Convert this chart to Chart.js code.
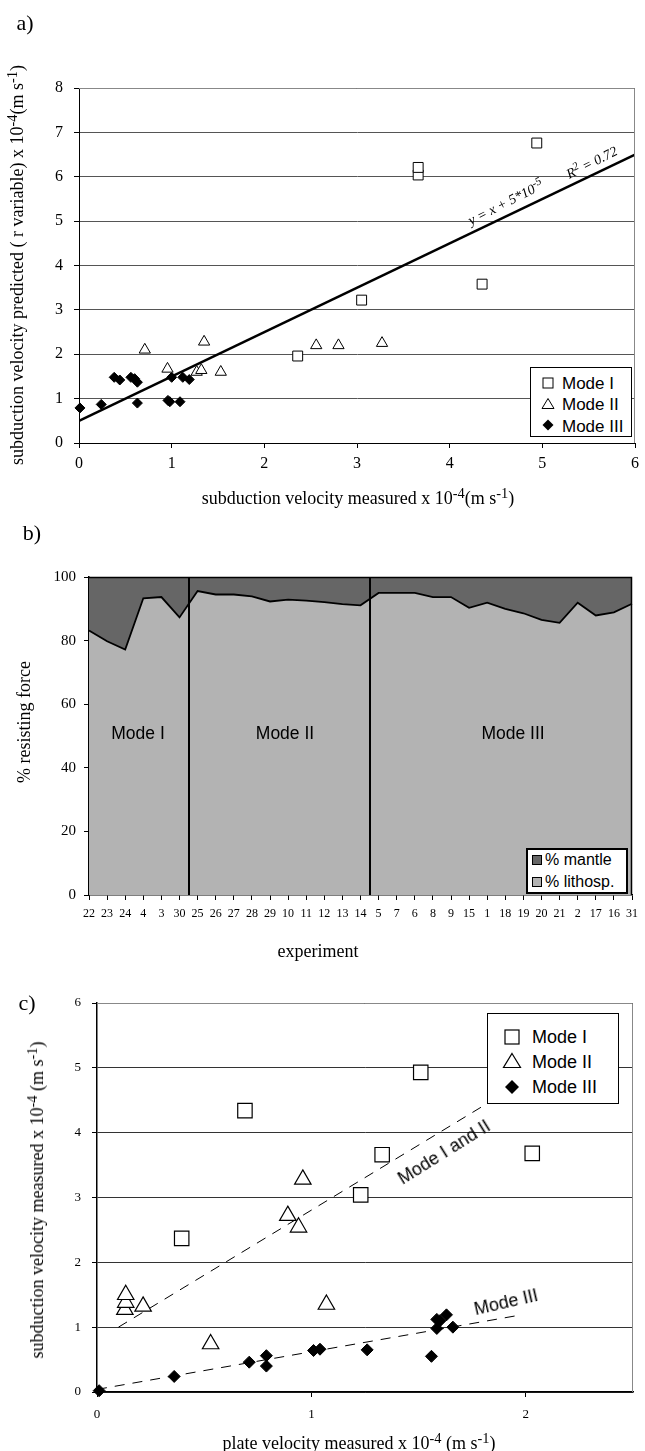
<!DOCTYPE html>
<html>
<head>
<meta charset="utf-8">
<script src="https://cdn.jsdelivr.net/npm/chart.js@4.4.1/dist/chart.umd.min.js"></script>
<style>
html,body{margin:0;padding:0;background:#fff;}
#page{position:relative;width:645px;height:1451px;overflow:hidden;background:#fff;color:#000;}
canvas{position:absolute;left:0;}
.t{position:absolute;white-space:nowrap;line-height:1;z-index:5;}
.serif{font-family:"Liberation Serif","Times New Roman",serif;}
.sans{font-family:"Liberation Sans",Arial,sans-serif;}
.c{transform:translate(-50%,-50%);}
.rot{transform:translate(-50%,-50%) rotate(-90deg);}
sup{font-size:0.8em;vertical-align:0.45em;line-height:0;}
.legend{position:absolute;background:#fff;border:1px solid #000;z-index:6;box-sizing:border-box;}
.legend svg{position:absolute;}
.legend span{position:absolute;white-space:nowrap;line-height:1;transform:translateY(-50%);font-family:"Liberation Sans",Arial,sans-serif;}
</style>
</head>
<body>
<div id="page">
  <canvas id="chartA" width="645" height="480" style="top:0px;"></canvas>
  <canvas id="chartB" width="645" height="430" style="top:500px;"></canvas>
  <canvas id="chartC" width="645" height="470" style="top:960px;"></canvas>

  <!-- panel a texts -->
  <div class="t serif c" style="left:25px;top:23px;font-size:22px;">a)</div>
  <div class="t serif rot" style="left:17px;top:265px;font-size:18px;">subduction velocity predicted ( r variable) x 10<sup>-4</sup>(m s<sup>-1</sup>)</div>
  <div class="t serif c" style="left:358px;top:498px;font-size:18px;">subduction velocity measured x 10<sup>-4</sup>(m s<sup>-1</sup>)</div>
  <div class="t serif" style="left:506px;top:203px;font-size:14px;font-style:italic;transform:translate(-50%,-50%) rotate(-27deg);">y = x + 5*10<sup>-5</sup></div>
  <div class="t serif" style="left:592px;top:163px;font-size:14px;font-style:italic;transform:translate(-50%,-50%) rotate(-27deg);">R<sup>2</sup> = 0.72</div>
  <div class="legend" style="left:530px;top:367px;width:102px;height:70px;">
    <svg width="14" height="14" style="left:10px;top:8px;"><rect x="2" y="2" width="10" height="10" fill="#fff" stroke="#000" stroke-width="1"/></svg>
    <span style="left:31px;top:15px;font-size:17px;">Mode I</span>
    <svg width="16" height="14" style="left:9px;top:29px;"><polygon points="8,1.5 14,11.5 2,11.5" fill="#fff" stroke="#000" stroke-width="1"/></svg>
    <span style="left:31px;top:36px;font-size:17px;">Mode II</span>
    <svg width="14" height="14" style="left:10px;top:50px;"><polygon points="7,1.5 12.5,7 7,12.5 1.5,7" fill="#000"/></svg>
    <span style="left:31px;top:58px;font-size:17px;">Mode III</span>
  </div>

  <!-- panel b texts -->
  <div class="t serif c" style="left:32px;top:533px;font-size:22px;">b)</div>
  <div class="t serif rot" style="left:24px;top:722px;font-size:18px;">% resisting force</div>
  <div class="t serif c" style="left:318px;top:951px;font-size:18px;">experiment</div>
  <div class="t sans c" style="left:138px;top:734px;font-size:17.5px;">Mode I</div>
  <div class="t sans c" style="left:285px;top:734px;font-size:17.5px;">Mode II</div>
  <div class="t sans c" style="left:513px;top:734px;font-size:17.5px;">Mode III</div>
  <div class="legend" style="left:526px;top:848px;width:102px;height:46px;border-width:2.5px;">
    <svg width="12" height="12" style="left:3px;top:4px;"><rect x="1.5" y="1.5" width="9" height="9" fill="#666" stroke="#000" stroke-width="1"/></svg>
    <span style="left:17px;top:10px;font-size:16px;">% mantle</span>
    <svg width="12" height="12" style="left:3px;top:26px;"><rect x="1.5" y="1.5" width="9" height="9" fill="#b3b3b3" stroke="#000" stroke-width="1"/></svg>
    <span style="left:17px;top:32px;font-size:16px;">% lithosp.</span>
  </div>

  <!-- panel c texts -->
  <div class="t serif c" style="left:27px;top:1003px;font-size:22px;">c)</div>
  <div class="t serif rot" style="left:37px;top:1200px;font-size:18px;">subduction velocity measured x 10<sup>-4</sup> (m s<sup>-1</sup>)</div>
  <div class="t serif c" style="left:359px;top:1443px;font-size:18px;">plate velocity measured x 10<sup>-4</sup> (m s<sup>-1</sup>)</div>
  <div class="t sans" style="left:444px;top:1152px;font-size:18px;transform:translate(-50%,-50%) rotate(-32deg);">Mode I and II</div>
  <div class="t sans" style="left:506px;top:1302px;font-size:18px;transform:translate(-50%,-50%) rotate(-13deg);">Mode III</div>
  <div class="legend" style="left:487px;top:1013px;width:132px;height:91px;border-width:1.5px;">
    <svg width="18" height="18" style="left:15px;top:14px;"><rect x="2" y="2" width="14" height="14" fill="#fff" stroke="#000" stroke-width="1.2"/></svg>
    <span style="left:44px;top:23px;font-size:18px;">Mode I</span>
    <svg width="20" height="18" style="left:14px;top:38px;"><polygon points="10,1.5 18.5,15.5 1.5,15.5" fill="#fff" stroke="#000" stroke-width="1.2"/></svg>
    <span style="left:44px;top:48px;font-size:18px;">Mode II</span>
    <svg width="16" height="16" style="left:16px;top:65px;"><polygon points="8,1 15,8 8,15 1,8" fill="#000"/></svg>
    <span style="left:44px;top:73px;font-size:18px;">Mode III</span>
  </div>
</div>

<script>
// ================= DATA =================
// Panel a: predicted vs measured subduction velocity (x 1e-4 m/s)
const aModeIX   = [2.36, 3.05, 3.66, 3.66, 4.35, 4.94];
const aModeIY   = [1.96, 3.22, 6.04, 6.21, 3.58, 6.76];
const aModeIIX  = [0.71, 0.955, 1.27, 1.32, 1.35, 1.53, 2.56, 2.80, 3.27];
const aModeIIY  = [2.10, 1.67, 1.60, 1.64, 2.28, 1.60, 2.20, 2.20, 2.25];
const aModeIIIX = [0.01, 0.24, 0.38, 0.44, 0.56, 0.60, 0.63, 0.63, 0.96, 0.98, 1.00, 1.09, 1.12, 1.19];
const aModeIIIY = [0.79, 0.87, 1.48, 1.42, 1.48, 1.45, 1.37, 0.90, 0.96, 0.93, 1.48, 0.93, 1.48, 1.43];
const aTrendX   = [0, 6];
const aTrendY   = [0.5, 6.5];
const aXRange   = [0, 6];
const aYRange   = [0, 8];

// Panel b: % resisting force per experiment
const experiments = ['22','23','24','4','3','30','25','26','27','28','29','10','11','12','13','14','5','7','6','8','9','15','1','18','19','20','21','2','17','16','31'];
const lithospherePct = [83.2,79.8,77.2,93.3,93.7,87.3,95.6,94.5,94.5,93.9,92.3,92.9,92.6,92.1,91.5,91.1,95.0,95.0,95.0,93.7,93.7,90.3,91.9,90.0,88.6,86.5,85.6,91.9,87.9,88.9,91.6];
const mantlePct      = [16.8,20.2,22.8,6.7,6.3,12.7,4.4,5.5,5.5,6.1,7.7,7.1,7.4,7.9,8.5,8.9,5.0,5.0,5.0,6.3,6.3,9.7,8.1,10.0,11.4,13.5,14.4,8.1,12.1,11.1,8.4];
const modeBoundaries = [5.5, 15.5];
const bYRange = [0, 100];

// Panel c: subduction velocity vs plate velocity (x 1e-4 m/s)
const cModeIX   = [0.395, 0.69, 1.23, 1.33, 1.51, 2.03];
const cModeIY   = [2.37, 4.34, 3.04, 3.66, 4.93, 3.68];
const cModeIIX  = [0.13, 0.134, 0.134, 0.215, 0.53, 0.89, 0.94, 0.96, 1.07];
const cModeIIY  = [1.27, 1.38, 1.50, 1.32, 0.74, 2.72, 2.54, 3.28, 1.35];
const cModeIIIX = [0.01, 0.36, 0.71, 0.79, 0.79, 1.01, 1.04, 1.26, 1.56, 1.585, 1.585, 1.60, 1.63, 1.66];
const cModeIIIY = [0.02, 0.24, 0.46, 0.56, 0.40, 0.64, 0.66, 0.65, 0.55, 0.98, 1.12, 1.10, 1.19, 1.00];
const cFitI_IIX = [0.10, 1.82];
const cFitI_IIY = [1.00, 4.45];
const cFitIIIX  = [0.00, 1.98];
const cFitIIIY  = [0.04, 1.19];
const cXRange   = [0, 2.5];
const cYRange   = [0, 6];

// ================= HELPERS =================
const pts = (xs, ys) => xs.map((x, i) => ({x: x, y: ys[i]}));
const SERIF = '"Liberation Serif", "Times New Roman", serif';
Chart.defaults.font.family = SERIF;
Chart.defaults.color = '#000';

const framePlugin = {
  id: 'frame',
  afterDatasetsDraw(chart, args, opts) {
    const {ctx, chartArea: {left, right, top, bottom}} = chart;
    ctx.save();
    ctx.strokeStyle = opts.color || '#888';
    ctx.lineWidth = opts.width || 1;
    const r = Math.round(right) - 0.5, t = Math.round(top) + 0.5;
    ctx.beginPath();
    ctx.moveTo(left, t); ctx.lineTo(r, t); ctx.lineTo(r, bottom);
    ctx.stroke();
    ctx.restore();
  }
};

const boundaryPlugin = {
  id: 'modeBoundaries',
  afterDatasetsDraw(chart, args, opts) {
    if (!opts.values) return;
    const {ctx, chartArea: {top, bottom}} = chart;
    const xs = chart.scales.x;
    ctx.save();
    ctx.strokeStyle = '#000';
    ctx.lineWidth = 2;
    opts.values.forEach(v => {
      const px = Math.round(xs.getPixelForValue(v));
      ctx.beginPath(); ctx.moveTo(px, top); ctx.lineTo(px, bottom); ctx.stroke();
    });
    ctx.restore();
  }
};

function hollow(style, r, bw) {
  return {pointStyle: style, pointRadius: r, pointHoverRadius: r,
    pointBackgroundColor: '#fff', backgroundColor: '#fff',
    pointBorderColor: '#000', borderColor: '#000', pointBorderWidth: bw, borderWidth: bw,
    showLine: false, clip: false};
}
function solid(style, r) {
  return {pointStyle: style, pointRadius: r, pointHoverRadius: r,
    pointBackgroundColor: '#000', backgroundColor: '#000',
    pointBorderColor: '#000', borderColor: '#000', pointBorderWidth: 1, borderWidth: 1,
    showLine: false, clip: false};
}
function axisTicks(size, pad) {
  return {font: {family: SERIF, size: size}, color: '#000', padding: pad};
}

// ================= CHART A =================
new Chart(document.getElementById('chartA'), {
  type: 'scatter',
  data: {
    datasets: [
      Object.assign({label: 'Mode I', data: pts(aModeIX, aModeIY)}, hollow('rect', 7, 1)),
      Object.assign({label: 'Mode II', data: pts(aModeIIX, aModeIIY)}, hollow('triangle', 6.5, 1)),
      Object.assign({label: 'Mode III', data: pts(aModeIIIX, aModeIIIY)}, solid('rectRot', 5)),
      {label: 'fit', data: pts(aTrendX, aTrendY), showLine: true, pointRadius: 0,
       borderColor: '#000', borderWidth: 2.5, fill: false, tension: 0}
    ]
  },
  options: {
    responsive: false, animation: false, devicePixelRatio: 1,
    layout: {padding: {left: 0, right: 8, top: 88, bottom: 0}},
    plugins: {legend: {display: false}, tooltip: {enabled: false}, frame: {color: '#888', width: 1}},
    scales: {
      x: {type: 'linear', min: aXRange[0], max: aXRange[1],
          ticks: Object.assign({stepSize: 1}, axisTicks(16, 6)),
          grid: {display: true, drawOnChartArea: false, tickLength: 5, tickColor: '#000'},
          border: {display: true, color: '#000', width: 1},
          afterFit: s => { s.height = 37; }},
      y: {type: 'linear', min: aYRange[0], max: aYRange[1],
          ticks: Object.assign({stepSize: 1}, axisTicks(16, 11)),
          grid: {display: true, color: '#555', lineWidth: 1, tickLength: 5, tickColor: '#000'},
          border: {display: true, color: '#000', width: 1},
          afterFit: s => { s.width = 79; }}
    }
  },
  plugins: [framePlugin]
});

// ================= CHART B =================
new Chart(document.getElementById('chartB'), {
  type: 'line',
  data: {
    labels: experiments,
    datasets: [
      {label: '% lithosp.', data: lithospherePct, fill: 'origin', backgroundColor: '#b3b3b3',
       borderColor: '#000', borderWidth: 1.8, pointRadius: 0, tension: 0},
      {label: '% mantle', data: mantlePct, fill: '-1', backgroundColor: '#666666',
       borderColor: 'rgba(0,0,0,0)', borderWidth: 0, pointRadius: 0, tension: 0}
    ]
  },
  options: {
    responsive: false, animation: false, devicePixelRatio: 1,
    layout: {padding: {left: 0, right: 13, top: 77, bottom: 0}},
    plugins: {legend: {display: false}, tooltip: {enabled: false},
              frame: {color: '#000', width: 1.5}, modeBoundaries: {values: modeBoundaries}},
    scales: {
      x: {type: 'category', offset: false,
          ticks: Object.assign({autoSkip: false, maxRotation: 0, minRotation: 0}, axisTicks(12, 7)),
          grid: {display: true, drawOnChartArea: false, tickLength: 5, tickColor: '#000', offset: false},
          border: {display: true, color: '#000', width: 1.5},
          afterFit: s => { s.height = 35; }},
      y: {type: 'linear', stacked: true, min: bYRange[0], max: bYRange[1],
          ticks: Object.assign({stepSize: 20}, axisTicks(15, 8)),
          grid: {display: true, drawOnChartArea: false, tickLength: 5, tickColor: '#000'},
          border: {display: true, color: '#000', width: 1.5},
          afterFit: s => { s.width = 89; }}
    }
  },
  plugins: [framePlugin, boundaryPlugin]
});

// ================= CHART C =================
new Chart(document.getElementById('chartC'), {
  type: 'scatter',
  data: {
    datasets: [
      Object.assign({label: 'Mode I', data: pts(cModeIX, cModeIY)}, hollow('rect', 10.2, 1.2)),
      Object.assign({label: 'Mode II', data: pts(cModeIIX, cModeIIY)}, hollow('triangle', 9.5, 1.2)),
      Object.assign({label: 'Mode III', data: pts(cModeIIIX, cModeIIIY)}, solid('rectRot', 6)),
      {label: 'Mode I and II fit', data: pts(cFitI_IIX, cFitI_IIY), showLine: true, pointRadius: 0,
       borderColor: '#000', borderWidth: 1, borderDash: [10, 8], fill: false, tension: 0},
      {label: 'Mode III fit', data: pts(cFitIIIX, cFitIIIY), showLine: true, pointRadius: 0,
       borderColor: '#000', borderWidth: 1, borderDash: [10, 8], fill: false, tension: 0}
    ]
  },
  options: {
    responsive: false, animation: false, devicePixelRatio: 1,
    layout: {padding: {left: 0, right: 12, top: 43, bottom: 0}},
    plugins: {legend: {display: false}, tooltip: {enabled: false}, frame: {color: '#888', width: 1}},
    scales: {
      x: {type: 'linear', min: cXRange[0], max: cXRange[1],
          ticks: Object.assign({stepSize: 1, includeBounds: false}, axisTicks(13, 10)),
          grid: {display: true, drawOnChartArea: false, tickLength: 5, tickColor: '#000'},
          border: {display: true, color: '#000', width: 1.5},
          afterFit: s => { s.height = 38; }},
      y: {type: 'linear', min: cYRange[0], max: cYRange[1],
          ticks: Object.assign({stepSize: 1}, axisTicks(13, 11)),
          grid: {display: true, color: '#333', lineWidth: 1, tickLength: 5, tickColor: '#000'},
          border: {display: true, color: '#000', width: 1.5},
          afterFit: s => { s.width = 97; }}
    }
  },
  plugins: [framePlugin]
});
</script>
</body>
</html>
